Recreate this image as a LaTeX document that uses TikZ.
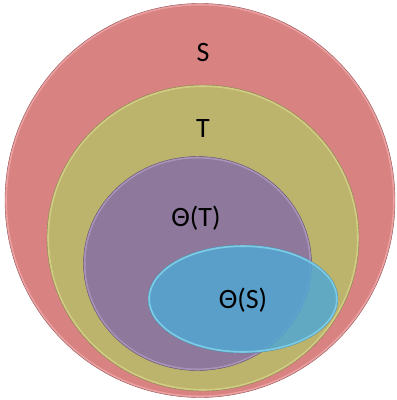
\documentclass[tikz,border=0pt]{standalone}
\usepackage{fontspec}
\setmainfont{Carlito}
\definecolor{sfill}{HTML}{D88282}
\definecolor{sedge}{HTML}{EAA0A0}
\definecolor{tfill}{HTML}{BCB46C}
\definecolor{tedge}{HTML}{D2CC84}
\definecolor{thfill}{HTML}{8E789C}
\definecolor{thedge}{HTML}{A892B8}
\definecolor{bfill}{HTML}{52A6D2}
\definecolor{bedge}{HTML}{7CCCE6}
\begin{document}
\begin{tikzpicture}[x=1pt,y=-1pt,
  setshape/.style={line width=2pt},
  lbl/.style={font=\fontsize{28}{32}\selectfont, text=black}]
\useasboundingbox (0,0) rectangle (397,400);
\fill[sfill] (200,200.5) ellipse[x radius=195, y radius=197];
\draw[sedge,setshape] (200,200.5) ellipse[x radius=194, y radius=196];
\draw[sfill!70!black,line width=0.4pt] (200,200.5) ellipse[x radius=195, y radius=197];
\fill[tfill] (203,238) ellipse[x radius=156, y radius=153];
\draw[tedge,setshape] (203,238) ellipse[x radius=155, y radius=152];
\draw[tfill!70!black,line width=0.4pt] (203,238) ellipse[x radius=156, y radius=153];
\fill[thfill] (197.5,263.5) ellipse[x radius=114, y radius=107];
\draw[thedge,setshape] (197.5,263.5) ellipse[x radius=113, y radius=106];
\draw[thfill!70!black,line width=0.4pt] (197.5,263.5) ellipse[x radius=114, y radius=107];
\fill[bfill,opacity=0.85] (243,299) ellipse[x radius=95, y radius=54];
\draw[bedge,setshape] (243,299) ellipse[x radius=94, y radius=53];
\draw[bfill!70!black,line width=0.4pt,opacity=0.6] (243,299) ellipse[x radius=95, y radius=54];
\node[lbl] (s) at (203,53) {S};
\node[lbl] (t) at (203,129) {T};
\node[lbl] (tht) at (196,218) {Θ(T)};
\node[lbl] (ths) at (243,300) {Θ(S)};
\end{tikzpicture}
\end{document}
